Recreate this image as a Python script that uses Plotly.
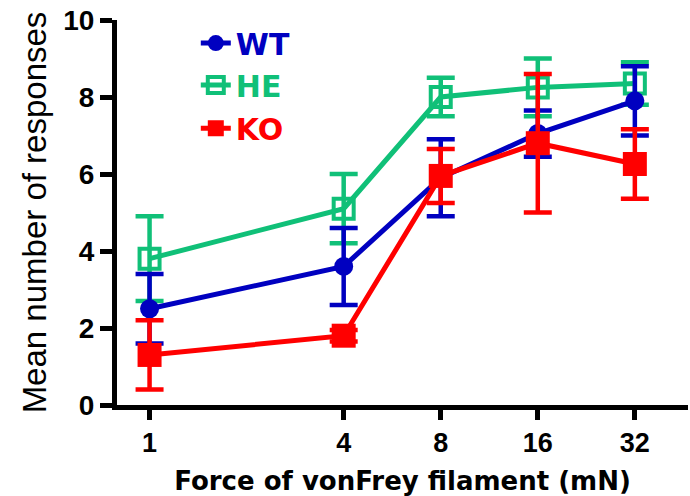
import plotly.graph_objects as go

# von Frey filament forces (mN)
force = [1, 4, 8, 16, 32]
tick_vals = [1, 4, 8, 16, 32]
tick_text = ["1", "4", "8", "16", "32"]

# mean number of responses and SEM per genotype
wt_mean = [2.5, 3.6, 5.9, 7.05, 7.9]
wt_sem = [0.9, 1.0, 1.0, 0.6, 0.9]
he_mean = [3.8, 5.1, 8.0, 8.25, 8.35]
he_sem = [1.1, 0.9, 0.5, 0.75, 0.55]
ko_mean = [1.3, 1.8, 5.95, 6.8, 6.26]
ko_sem = [0.9, 0.15, 0.7, 1.8, 0.9]

BLUE = "#0000C0"
GREEN = "#10C078"
RED = "#FF0000"
SANS = "Liberation Sans"
HEAVY = "DejaVu Sans"


def series(name, y, err, color, symbol, size, legend):
    is_open = "open" in symbol
    return go.Scatter(
        x=force, y=y, name=name, mode="lines+markers",
        line=dict(color=color, width=5),
        marker=dict(symbol=symbol, size=size, color=color,
                    line=dict(color=color, width=4 if is_open else 0)),
        error_y=dict(type="data", array=err, visible=True,
                     color=color, thickness=4.5, width=14),
        legend=legend, showlegend=True,
    )


fig = go.Figure()
fig.add_trace(series("HE", he_mean, he_sem, GREEN, "square-open", 20, "legend2"))
fig.add_trace(series("WT", wt_mean, wt_sem, BLUE, "circle", 19, "legend"))
fig.add_trace(series("KO", ko_mean, ko_sem, RED, "square", 24, "legend3"))


def leg(y, color):
    return dict(x=0.138, y=y, xanchor="left", yanchor="middle",
                bgcolor="rgba(0,0,0,0)", borderwidth=0,
                font=dict(family=HEAVY, size=30, color=color, weight="bold"),
                itemwidth=30, visible=True)


fig.update_layout(
    width=690, height=496,
    margin=dict(l=117, r=2, t=20, b=91),
    paper_bgcolor="white", plot_bgcolor="white",
    font=dict(family=SANS, color="black"),
    showlegend=True,
    legend=leg(0.940, BLUE),
    legend2=leg(0.831, GREEN),
    legend3=leg(0.719, RED),
    xaxis=dict(
        type="log", range=[-0.101, 1.670], automargin=False,
        tickvals=tick_vals, ticktext=tick_text,
        showline=True, linecolor="black", linewidth=5,
        ticks="outside", ticklen=10, tickwidth=5, tickcolor="black",
        showgrid=False, zeroline=False,
        tickfont=dict(family=SANS, size=27, weight="bold"),
        title=dict(text="Force of vonFrey filament (mN)",
                   font=dict(family=HEAVY, size=26, weight="bold"), standoff=20),
    ),
    yaxis=dict(
        range=[0, 10], tickvals=[0, 2, 4, 6, 8, 10], automargin=False,
        showline=True, linecolor="black", linewidth=5,
        ticks="outside", ticklen=12, tickwidth=5, tickcolor="black",
        showgrid=False, zeroline=False,
        tickfont=dict(family=SANS, size=28, weight="bold"),
        title=dict(text="Mean number of responses",
                   font=dict(family=SANS, size=33), standoff=8),
    ),
)

fig.write_html("out.html")
